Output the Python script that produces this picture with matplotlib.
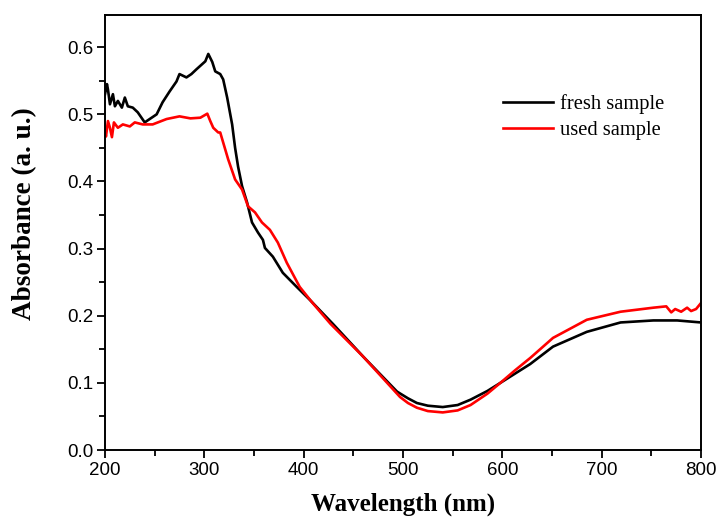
import matplotlib
matplotlib.use("Agg")
import matplotlib.pyplot as plt
from matplotlib.ticker import MultipleLocator, FormatStrFormatter

# values
fresh_nm = [200, 202, 203, 205, 208, 210, 213, 217, 220, 223, 228, 233, 240, 245,
            252, 258, 265, 272, 275, 282, 287, 292, 298, 301, 304, 308, 311, 316,
            319, 323, 328, 331, 334, 338, 343, 348, 354, 359, 361, 369, 379, 393,
            406, 430, 460, 494, 505, 514, 525, 540, 555, 568, 585, 598, 613, 628,
            651, 685, 719, 752, 776, 800]
fresh_abs = [0.53, 0.545, 0.537, 0.515, 0.53, 0.512, 0.52, 0.51, 0.525, 0.512,
             0.51, 0.503, 0.488, 0.493, 0.50, 0.518, 0.534, 0.549, 0.56, 0.555,
             0.56, 0.567, 0.575, 0.579, 0.59, 0.578, 0.564, 0.56, 0.552, 0.525,
             0.485, 0.45, 0.422, 0.393, 0.369, 0.339, 0.324, 0.313, 0.301, 0.288,
             0.264, 0.243, 0.224, 0.187, 0.139, 0.087, 0.077, 0.07, 0.066, 0.064,
             0.067, 0.075, 0.088, 0.10, 0.114, 0.128, 0.154, 0.176, 0.19, 0.193,
             0.193, 0.19]

used_nm = [200, 201, 203, 205, 207, 209, 213, 218, 225, 230, 238, 248, 262, 275,
           286, 296, 303, 306, 309, 314, 316, 319, 324, 331, 338, 344, 351, 358,
           366, 374, 383, 396, 409, 427, 460, 497, 505, 514, 525, 540, 555, 568,
           585, 598, 613, 628, 651, 685, 719, 752, 765, 770, 774, 780, 786, 790,
           795, 800]
used_abs = [0.475, 0.467, 0.49, 0.48, 0.466, 0.488, 0.48, 0.485, 0.482, 0.488,
            0.485, 0.485, 0.493, 0.497, 0.494, 0.495, 0.501, 0.49, 0.48, 0.473,
            0.473, 0.458, 0.433, 0.403, 0.388, 0.363, 0.354, 0.339, 0.328, 0.309,
            0.279, 0.243, 0.219, 0.188, 0.139, 0.079, 0.07, 0.063, 0.058, 0.056,
            0.059, 0.067, 0.084, 0.10, 0.119, 0.137, 0.167, 0.194, 0.206, 0.212,
            0.214, 0.205, 0.21, 0.206, 0.212, 0.207, 0.21, 0.219]

fig = plt.figure(figsize=(7.21, 5.24), dpi=100)
ax = fig.add_axes([0.1456, 0.1412, 0.8267, 0.8302])

ax.plot(fresh_nm, fresh_abs, color="black", lw=1.9, label="fresh sample")
ax.plot(used_nm, used_abs, color="red", lw=1.9, label="used sample")

ax.set_xlim(200, 800)
ax.set_ylim(0, 0.648)
ax.xaxis.set_major_locator(MultipleLocator(100))
ax.xaxis.set_minor_locator(MultipleLocator(50))
ax.yaxis.set_major_locator(MultipleLocator(0.1))
ax.yaxis.set_minor_locator(MultipleLocator(0.05))
ax.yaxis.set_major_formatter(FormatStrFormatter("%.1f"))
ax.tick_params(which="both", direction="out", width=1.3, top=False, right=False)
ax.tick_params(which="major", length=6, labelsize=13.5, pad=2.5)
ax.tick_params(which="minor", length=4)
for lab in ax.get_xticklabels() + ax.get_yticklabels():
    lab.set_fontfamily("Liberation Sans")
for s in ax.spines.values():
    s.set_linewidth(1.4)

ax.set_xlabel("Wavelength (nm)", fontfamily="Liberation Serif", fontweight="bold",
              fontsize=18, va="top")
ax.set_ylabel("Absorbance (a. u.)", fontfamily="Liberation Serif", fontweight="bold",
              fontsize=19.5)
ax.xaxis.set_label_coords(0.5, -0.098)
ax.yaxis.set_label_coords(-0.114, 0.543)

ax.legend(loc="upper left", bbox_to_anchor=(0.637, 0.86), frameon=False,
          prop={"family": "Liberation Serif", "size": 14.8}, handlelength=2.44,
          handletextpad=0.34, labelspacing=0.3)

fig.savefig("out.png", dpi=100)
